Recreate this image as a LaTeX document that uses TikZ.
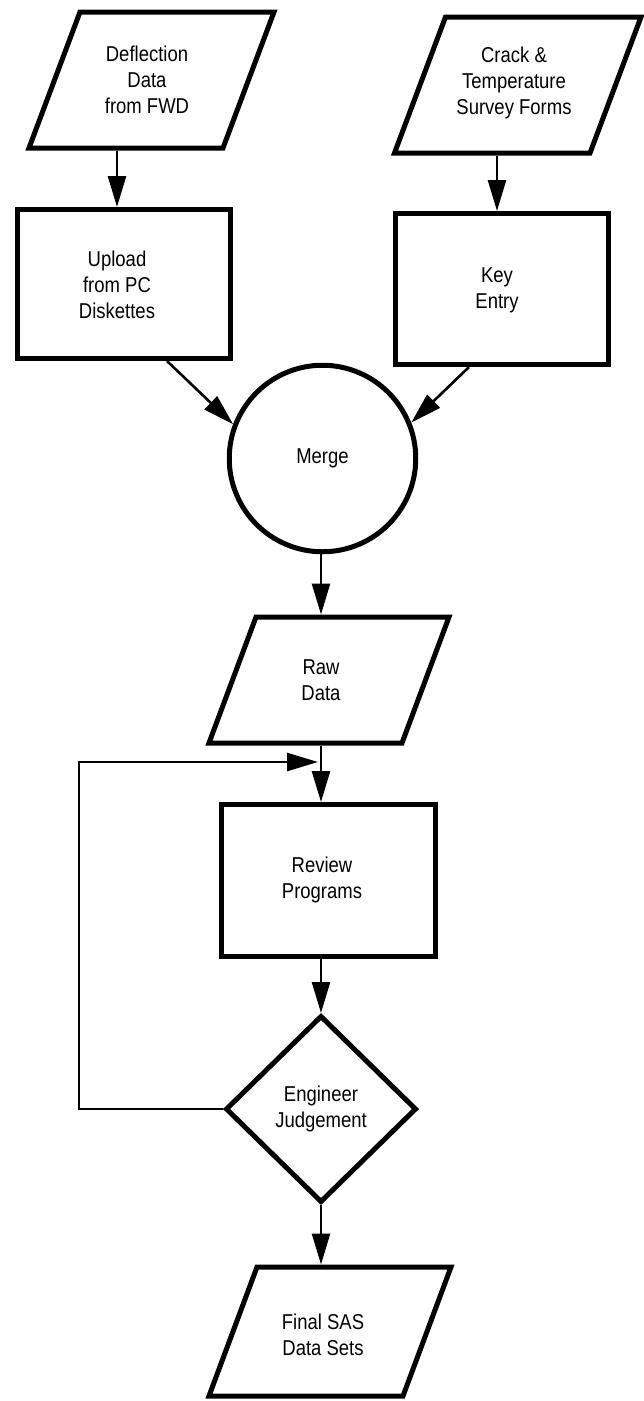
\documentclass[tikz,border=0pt]{standalone}
\usepackage{fontspec}
\setmainfont{Liberation Sans}[FakeStretch=0.86]
\usetikzlibrary{arrows.meta,shapes.geometric}
\begin{document}
\begin{tikzpicture}[x=1pt,y=-1pt,
  shapeline/.style={line width=5pt, draw=black},
  procbox/.style={draw, line width=5pt, rectangle, inner sep=0pt},
  ghost/.style={inner sep=0pt, outer sep=0pt, draw=none},
  lbl/.style={font=\fontsize{21.5pt}{26pt}\selectfont, align=center, inner sep=0pt},
  conn/.style={line width=2.6pt, -{Triangle[length=31pt,width=18pt]}}
]
\useasboundingbox (0,0) rectangle (644,1401);

% Deflection data (parallelogram)
\node[ghost, minimum width=245pt, minimum height=136pt] (defl) at (151.5,80) {};
\draw[shapeline] ([xshift=51pt]defl.north west) -- (defl.north east) -- ([xshift=-51pt]defl.south east) -- (defl.south west) -- cycle;
\node[lbl] (deflT) at (147,80) {Deflection\\Data\\from FWD};

% Crack & Temperature (parallelogram)
\node[ghost, minimum width=246.5pt, minimum height=136pt] (crack) at (517.75,85) {};
\draw[shapeline] ([xshift=51pt]crack.north west) -- (crack.north east) -- ([xshift=-51pt]crack.south east) -- (crack.south west) -- cycle;
\node[lbl] (crackT) at (514,83) {Crack \&\\Temperature\\Survey Forms};

% Upload box
\node[procbox, minimum width=213pt, minimum height=149pt] (up) at (124,284) {};
\node[lbl] (upT) at (117,285) {Upload\\from PC\\Diskettes};

% Key entry box
\node[procbox, minimum width=213pt, minimum height=151pt] (key) at (502,289) {};
\node[lbl] (keyT) at (497,290.5) {Key\\Entry};

% Merge circle
\node[circle, draw, line width=5pt, minimum size=186.5pt, inner sep=0pt,
      font=\fontsize{21.5pt}{26pt}\selectfont] (merge) at (322.5,458.5) {Merge};

% Raw data (parallelogram)
\node[ghost, minimum width=240pt, minimum height=126pt] (raw) at (329,680) {};
\draw[shapeline] ([xshift=47pt]raw.north west) -- (raw.north east) -- ([xshift=-47pt]raw.south east) -- (raw.south west) -- cycle;
\node[lbl] (rawT) at (321,680) {Raw\\Data};

% Review programs box
\node[procbox, minimum width=214pt, minimum height=152pt] (review) at (328.5,880.5) {};
\node[lbl] (reviewT) at (322,880) {Review\\Programs};

% Engineer judgement diamond
\node[diamond, draw, line width=5pt, minimum width=191pt, minimum height=187pt,
      inner sep=0pt, align=center, font=\fontsize{21.5pt}{26pt}\selectfont] (judge) at (321,1109) {Engineer\\Judgement};

% Final SAS data sets (parallelogram)
\node[ghost, minimum width=242pt, minimum height=129pt] (final) at (330,1331.5) {};
\draw[shapeline] ([xshift=48pt]final.north west) -- (final.north east) -- ([xshift=-48pt]final.south east) -- (final.south west) -- cycle;
\node[lbl] (finalT) at (323,1334.5) {Final SAS\\Data Sets};

% connectors
\draw[conn] ([yshift=-2.5pt]defl.south -| upT.center) -- (up.north -| upT.center);
\draw[conn] ([yshift=-2.5pt]crack.south -| keyT.center) -- (key.north -| keyT.center);
\draw[conn] ([xshift=43pt]up.south) -- (merge.159);
\draw[conn] ([xshift=-33pt]key.south) -- (merge.22);
\draw[conn] (merge.south -| judge.north) -- ([yshift=2.5pt]raw.north -| judge.north);
\coordinate (fbend) at (318,762);
\draw[conn] (judge.west) -- ++(-144,0) |- (fbend);
\draw[conn] ([yshift=-2.5pt]raw.south -| judge.north) -- (review.north -| judge.north);
\draw[conn] (review.south -| judge.north) -- (judge.north);
\draw[conn] (judge.south) -- ([yshift=2.5pt]final.north -| judge.south);
\end{tikzpicture}
\end{document}
